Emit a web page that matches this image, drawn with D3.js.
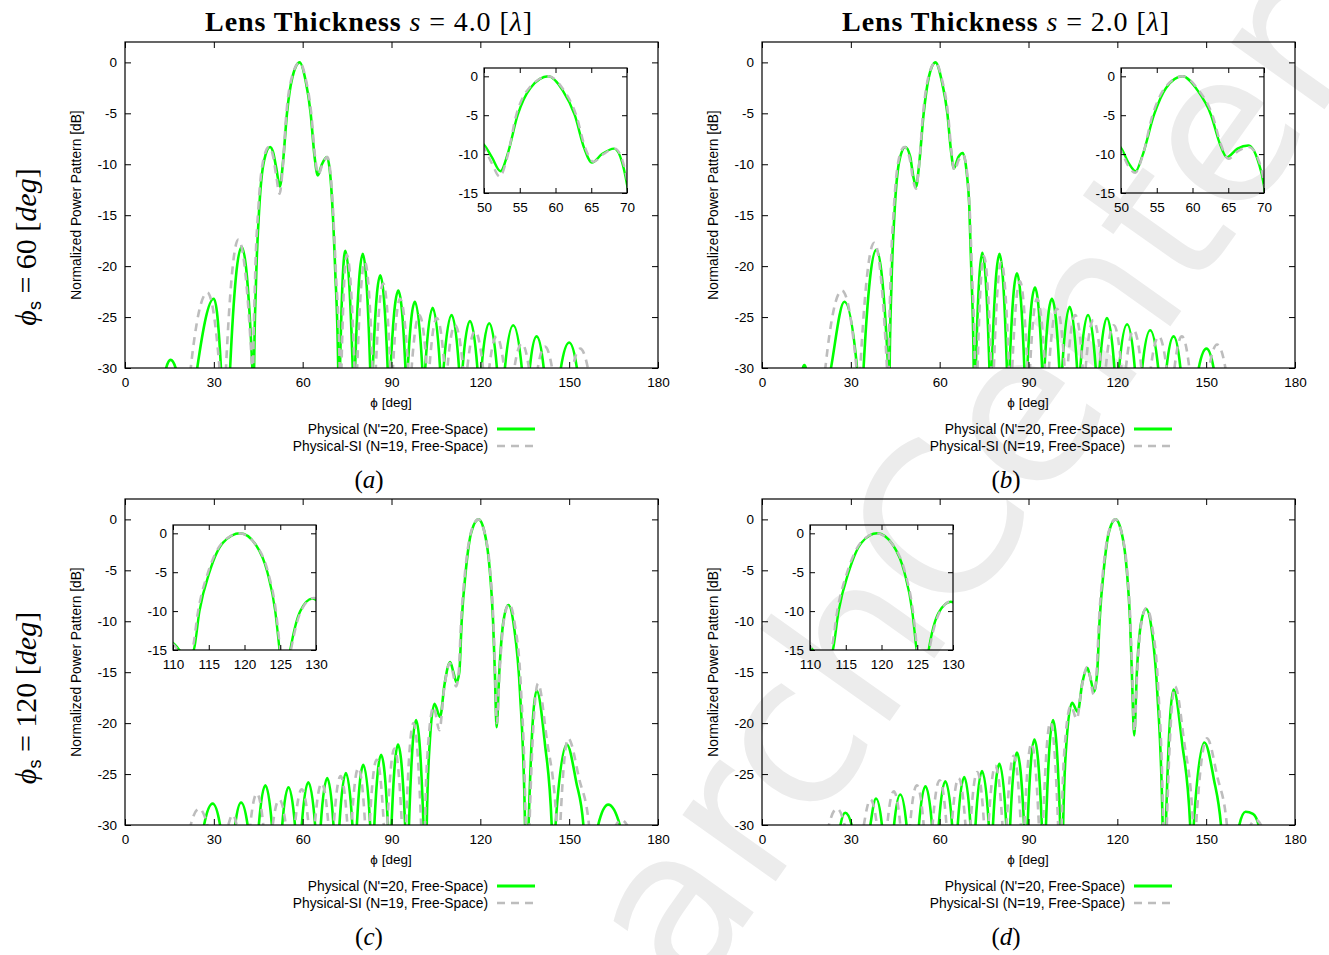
<!DOCTYPE html>
<html><head><meta charset="utf-8">
<script src="https://cdn.jsdelivr.net/npm/d3@7"></script>
<style>body{margin:0;background:#fff}</style>
</head><body>
<svg id="c" width="1329" height="955" xmlns="http://www.w3.org/2000/svg"></svg>
<script>
// ---------- data ----------
const xTicks=[0,30,60,90,120,150,180];
const yTicks=[0,-5,-10,-15,-20,-25,-30];
const insetYTicks=[0,-5,-10,-15];
const insetXTicksTop=[50,55,60,65,70];
const insetXTicksBottom=[110,115,120,125,130];
const seriesNames=["Physical (N'=20, Free-Space)","Physical-SI (N=19, Free-Space)"];
const panelLetters=["a","b","c","d"];
const thicknessValues=["4.0","2.0"];
const steerValues=["60","120"];
const watermarkText="ResearchCenter";

const physA=[[0,-45],[12.6,-45],[13.9,-30],[15.4,-29.2],[17.1,-30],[19,-45],
[24.4,-30],[30.0,-23.2],[32.4,-30],[34.0,-45],
[35.5,-30],[39.4,-18.1],[43.0,-30],[43.3,-45],
[43.6,-30],[44.2,-22],[45.4,-14],[47.0,-9.6],[49.0,-8.3],[50.0,-8.8],[51.1,-10.4],[52.3,-12.2],[53.3,-10.0],[54.7,-5],[56.5,-1.5],[59.0,0],[61.0,-1.8],[62.7,-5],[64.0,-9.2],[65.1,-11.1],[66.5,-10.0],[68.2,-9.3],[69.3,-11.0],[70.0,-13.9],[71.0,-20.5],[72.0,-30],[72.3,-45],
[72.6,-30],[74.4,-18.5],[76.9,-30],[77.3,-45],
[77.7,-30],[80.3,-18.8],[82.8,-30],[83.2,-45],
[83.7,-30],[86.2,-20.9],[88.7,-30],[89.2,-45],
[89.7,-30],[92.3,-22.4],[94.7,-30],[95.1,-45],
[95.5,-30],[97.9,-23.5],[100.4,-30],[100.9,-45],
[101.4,-30],[103.9,-24.1],[106.4,-30],[107.0,-45],
[107.6,-30],[110.3,-24.8],[112.8,-30],[113.3,-45],
[114.0,-30],[116.5,-25.4],[119.0,-30],[119.7,-45],
[120.4,-30],[123.0,-25.6],[125.6,-30],[127.0,-45],
[128.3,-30],[131.1,-25.8],[134.0,-30],[135.0,-45],
[136.7,-30],[139.0,-26.9],[141.4,-30],[144.0,-45],
[147.2,-30],[150.0,-27.5],[152.6,-30],[155.0,-45],[180,-45]];

const siA=[[0,-45],[21.0,-45],[22.2,-30],[27.8,-22.6],[31.9,-30],[33.0,-45],
[34.1,-30],[38.3,-17.4],[42.9,-30],[43.1,-45],
[43.3,-30],[43.9,-21.5],[45.1,-14],[46.7,-9.6],[48.6,-8.3],[50.0,-9.2],[51.1,-11.2],[52.2,-12.9],[53.2,-10.6],[54.5,-5],[56.4,-1.4],[59.0,0],[61.1,-1.7],[62.9,-5],[64.2,-9.3],[65.3,-11.0],[66.7,-10.0],[68.3,-9.3],[69.4,-10.9],[70.0,-13.2],[71.2,-20.5],[72.5,-30],[72.8,-45],
[73.1,-30],[74.9,-18.9],[77.5,-30],[77.9,-45],
[78.4,-30],[81.0,-19.6],[83.6,-30],[84.1,-45],
[84.7,-30],[87.2,-21.7],[89.6,-30],[90.0,-45],
[90.5,-30],[92.9,-23.2],[95.6,-30],[96.1,-45],
[96.8,-30],[99.4,-24.8],[101.9,-30],[102.3,-45],
[102.8,-30],[105.3,-25.1],[107.9,-30],[108.3,-45],
[108.9,-30],[111.4,-25.8],[114.2,-30],[114.7,-45],
[115.6,-30],[118.2,-26.4],[120.9,-30],[121.8,-45],
[123.0,-30],[125.5,-26.9],[128.0,-30],[129.5,-45],
[131.5,-30],[134.0,-27.6],[136.4,-30],[137.8,-45],
[139.4,-30],[141.8,-27.9],[144.2,-30],[147.0,-45],
[151.2,-30],[153.7,-28.1],[156.3,-30],[158,-45],[180,-45]];

const physB=[[0,-45],[13.2,-45],[13.8,-30],[14.3,-29.7],[14.8,-30],[15.5,-45],
[23.3,-30],[27.8,-23.5],[32.1,-30],[33.2,-45],
[34.3,-30],[38.6,-18.4],[42.6,-30],[42.85,-45],
[43.1,-30],[43.7,-22],[44.9,-14],[46.5,-9.5],[48.4,-8.3],[50.0,-9.2],[51.1,-11.2],[52.05,-12.2],[53.0,-10.2],[54.6,-5],[56.3,-1.5],[58.6,0],[60.7,-1.8],[62.6,-5],[63.8,-8.6],[64.8,-10.4],[66.3,-9.3],[67.8,-8.9],[69.2,-11.0],[70.0,-14.1],[70.7,-20.5],[71.5,-30],[71.8,-45],
[72.2,-30],[74.4,-18.7],[76.8,-30],[77.2,-45],
[77.6,-30],[80.2,-18.8],[82.7,-30],[83.1,-45],
[83.6,-30],[86.1,-20.7],[88.6,-30],[89.1,-45],
[89.6,-30],[92.2,-22.1],[94.6,-30],[95.0,-45],
[95.4,-30],[97.9,-23.2],[100.4,-30],[100.9,-45],
[101.4,-30],[103.9,-24.0],[106.4,-30],[107.0,-45],
[107.5,-30],[110.1,-24.8],[112.7,-30],[113.3,-45],
[114.0,-30],[116.5,-25.1],[119.0,-30],[119.8,-45],
[120.6,-30],[123.3,-25.7],[125.9,-30],[127.2,-45],
[128.4,-30],[131.1,-26.3],[133.8,-30],[135.0,-45],
[136.6,-30],[139.0,-26.9],[141.3,-30],[144.5,-45],
[147.5,-30],[150.1,-28.1],[152.5,-30],[155,-45],[180,-45]];

const siB=[[0,-45],[20.3,-45],[21.4,-30],[27.0,-22.4],[31.9,-30],[32.5,-45],
[33.2,-30],[37.9,-17.7],[42.2,-30],[42.5,-45],
[42.8,-30],[43.4,-21.5],[44.6,-14],[46.2,-9.5],[48.1,-8.3],[50.0,-9.6],[51.0,-11.5],[52.0,-12.4],[52.9,-10.6],[54.4,-5],[56.2,-1.4],[58.6,0],[60.8,-1.7],[62.8,-5],[64.0,-8.8],[65.0,-10.6],[66.4,-9.6],[67.9,-9.1],[69.3,-10.9],[70.0,-13.6],[70.9,-20.5],[71.9,-30],[72.2,-45],
[72.8,-30],[74.9,-19.0],[77.4,-30],[77.9,-45],
[78.3,-30],[80.8,-19.6],[83.4,-30],[83.9,-45],
[84.5,-30],[87.1,-21.5],[89.6,-30],[90.0,-45],
[90.5,-30],[92.9,-23.2],[95.6,-30],[96.2,-45],
[96.9,-30],[99.6,-24.2],[102.2,-30],[102.7,-45],
[103.2,-30],[105.8,-24.8],[108.3,-30],[108.8,-45],
[109.3,-30],[111.9,-25.3],[114.6,-30],[115.3,-45],
[116.1,-30],[118.8,-25.8],[121.4,-30],[122.1,-45],
[122.9,-30],[125.5,-26.3],[128.1,-30],[129.7,-45],
[131.3,-30],[134.0,-26.9],[136.6,-30],[137.9,-45],
[139.3,-30],[141.8,-26.9],[144.3,-30],[147.5,-45],
[151.0,-30],[153.7,-27.7],[156.5,-30],[158,-45],[180,-45]];

const physC=[[0,-45],[25.5,-45],[26.7,-30],[29.6,-27.9],[32.1,-30],[34,-45],
[37.2,-30],[39.2,-27.8],[41.4,-30],[43,-45],
[45.2,-30],[47.4,-26.1],[49.6,-30],[51,-45],
[53.1,-30],[55.2,-26.3],[57.4,-30],[58.5,-45],
[59.7,-30],[61.9,-25.8],[64.2,-30],[65.1,-45],
[66.1,-30],[68.3,-25.4],[70.4,-30],[71.4,-45],
[72.4,-30],[74.6,-24.9],[76.8,-30],[77.6,-45],
[78.3,-30],[80.5,-24.1],[82.8,-30],[83.5,-45],
[84.2,-30],[86.5,-23.1],[88.8,-30],[89.4,-45],
[90.0,-30],[92.2,-22.1],[94.6,-30],[95.3,-45],
[95.9,-30],[98.3,-19.7],[100.8,-30],[101.4,-45],
[101.9,-30],[102.9,-22],[104.5,-18.1],[106.4,-19.4],[107.9,-16.2],[109.8,-14.0],[110.9,-15.0],[112.0,-16.0],[112.9,-15.0],[113.7,-10],[115.1,-5],[117.0,-1.2],[119.4,0],[121.6,-1.5],[123.2,-5],[124.3,-10],[124.9,-15],[125.5,-20.4],[126.4,-15],[127.8,-10],[129.5,-8.4],[131.4,-10.6],[133.4,-17],[135.1,-30],[135.7,-45],
[136.3,-30],[139.0,-16.8],[141.8,-22],[144.1,-30],[144.7,-45],
[145.4,-30],[149.2,-22.1],[152.4,-25.8],[154.8,-30],[157.0,-45],
[159.8,-30],[163.2,-28.0],[167.1,-30],[168.5,-45],[180,-45]];

const siC=[[0,-45],[21.0,-45],[22.2,-30],[25.0,-28.4],[27.8,-30],[29,-45],
[34.9,-30],[36.3,-29.0],[37.7,-30],[39,-45],
[42.3,-30],[44.5,-26.9],[46.7,-30],[48,-45],
[49.9,-30],[52.1,-27.5],[54.3,-30],[55.5,-45],
[57.4,-30],[59.7,-26.5],[62.0,-30],[62.9,-45],
[64.1,-30],[66.4,-25.9],[68.7,-30],[69.6,-45],
[70.5,-30],[72.8,-25.2],[75.1,-30],[75.9,-45],
[76.5,-30],[78.8,-24.4],[81.1,-30],[81.9,-45],
[82.6,-30],[85.0,-23.6],[87.4,-30],[88.0,-45],
[88.6,-30],[91.0,-22.5],[93.5,-30],[94.2,-45],
[94.9,-30],[97.4,-20.0],[100.0,-30],[100.6,-45],
[101.3,-30],[102.4,-22],[104.2,-18.4],[106.2,-20.7],[107.7,-16.8],[109.7,-14.1],[110.7,-15.0],[111.8,-16.4],[112.7,-15.0],[113.5,-10],[114.9,-5],[116.9,-1.2],[119.3,0],[121.6,-1.5],[123.3,-5],[124.4,-10],[125.0,-15],[125.6,-20.0],[126.5,-15],[127.9,-10],[129.7,-8.3],[131.7,-10.4],[133.7,-16.5],[135.3,-30],[135.9,-45],
[136.6,-30],[139.5,-16.1],[142.4,-21.5],[145.8,-30],[146.4,-45],
[147.0,-30],[149.7,-21.5],[153.4,-25.5],[156.7,-30],[160,-45],
[165.8,-30],[167.6,-29.5],[169.5,-30],[171,-45],[180,-45]];

const physD=[[0,-45],[25.5,-45],[26.5,-30],[28.1,-28.8],[30.3,-30],[32,-45],
[36.6,-30],[38.5,-27.4],[40.5,-30],[42,-45],
[44.6,-30],[46.7,-27.0],[48.8,-30],[50.5,-45],
[53.0,-30],[55.2,-26.2],[57.4,-30],[58.5,-45],
[59.7,-30],[61.9,-25.7],[64.2,-30],[65.1,-45],
[66.1,-30],[68.3,-25.3],[70.4,-30],[71.3,-45],
[72.1,-30],[74.3,-24.7],[76.6,-30],[77.3,-45],
[78.0,-30],[80.2,-24.0],[82.5,-30],[83.2,-45],
[83.8,-30],[86.1,-22.9],[88.5,-30],[89.1,-45],
[89.7,-30],[92.0,-21.6],[94.5,-30],[95.2,-45],
[95.9,-30],[98.3,-19.7],[100.7,-30],[101.2,-45],
[101.7,-30],[102.8,-22],[104.7,-18.0],[106.6,-18.9],[108.2,-16.0],[109.9,-14.6],[110.5,-15.1],[112.2,-16.9],[113.2,-15.0],[114.0,-10],[115.4,-5],[117.2,-1.2],[119.4,0],[121.6,-1.5],[123.2,-5],[124.3,-10],[124.9,-15],[125.7,-21.2],[126.6,-15],[128.0,-10.2],[129.7,-8.8],[131.6,-10.8],[133.5,-17],[135.3,-30],[135.8,-45],
[136.4,-30],[139.0,-16.7],[141.9,-22],[144.6,-30],[145.2,-45],
[145.8,-30],[149.4,-21.9],[152.6,-25.5],[155.0,-30],[158.0,-45],
[161.2,-30],[163.3,-28.7],[165.8,-28.9],[167.7,-30],[169,-45],[180,-45]];

const siD=[[0,-45],[21.5,-45],[22.6,-30],[25.3,-28.4],[27.9,-30],[29.5,-45],
[34.4,-30],[36.6,-27.5],[38.8,-30],[40,-45],
[42.3,-30],[44.5,-26.7],[46.7,-30],[48,-45],
[50.0,-30],[52.3,-26.1],[54.6,-30],[55.6,-45],
[57.6,-30],[60.0,-25.6],[62.3,-30],[63.1,-45],
[64.1,-30],[66.4,-25.4],[68.7,-30],[69.5,-45],
[70.4,-30],[72.7,-24.8],[75.0,-30],[75.8,-45],
[76.5,-30],[78.8,-24.2],[81.2,-30],[81.9,-45],
[82.6,-30],[85.0,-23.2],[87.4,-30],[88.0,-45],
[88.6,-30],[91.0,-22.0],[93.5,-30],[94.2,-45],
[94.9,-30],[97.4,-19.9],[100.0,-30],[100.6,-45],
[101.2,-30],[102.3,-22],[104.3,-18.3],[106.3,-19.6],[108.0,-16.4],[109.8,-14.5],[110.5,-15.0],[112.0,-17.2],[113.0,-15.0],[113.8,-10],[115.2,-5],[117.1,-1.2],[119.3,0],[121.6,-1.5],[123.3,-5],[124.4,-10],[125.0,-15],[125.8,-20.8],[126.7,-15],[128.1,-10.2],[129.8,-8.7],[131.8,-10.6],[133.8,-16.5],[135.5,-30],[136.0,-45],
[136.7,-30],[139.5,-16.4],[142.5,-21.7],[145.6,-30],[146.1,-45],
[146.6,-30],[150.3,-21.5],[153.8,-25.3],[157.0,-30],[160,-45],
[165.0,-30],[166.8,-29.5],[168.5,-30],[170,-45],[180,-45]];

// ---------- layout ----------
const W=533, H=326, IW=143, IH=125;
const panels=[
 {k:0, phys:physA, si:siA, x0:125, y0:42,  ix:484,  iy:68,  idom:[50,70],   iticks:insetXTicksTop},
 {k:1, phys:physB, si:siB, x0:762, y0:42,  ix:1121, iy:68,  idom:[50,70],   iticks:insetXTicksTop},
 {k:2, phys:physC, si:siC, x0:125, y0:499, ix:173,  iy:525, idom:[110,130], iticks:insetXTicksBottom},
 {k:3, phys:physD, si:siD, x0:762, y0:499, ix:810,  iy:525, idom:[110,130], iticks:insetXTicksBottom}
];
const SANS='"Liberation Sans", Arial, Helvetica, sans-serif';
const SERIF='"Liberation Serif", "Times New Roman", serif';
const GREEN="#00ff00", GRAY="#bdbdbd";

const svg=d3.select("#c");
svg.append("rect").attr("width",1329).attr("height",955).attr("fill","#fff");

// ---------- faint diagonal watermark (behind, cut by the page edge as in the source) ----------
(function(){
  const deg=-54.6, ang=deg*Math.PI/180, ux=Math.cos(ang), uy=Math.sin(ang);
  const dx=-Math.sin(ang), dy=Math.cos(ang);
  const FAM='"DejaVu Sans", sans-serif';
  const probe=svg.append("text").attr("font-family",FAM).attr("font-size",100).text(watermarkText);
  const node=probe.node();
  const aIdx=4, n=watermarkText.length;
  const pre=node.getSubStringLength(0,aIdx);
  const aW=node.getSubStringLength(aIdx,1), rW=node.getSubStringLength(n-1,1);
  const span=node.getSubStringLength(aIdx,n-aIdx)-aW/2-rW/2;
  probe.remove();
  const A=[680,915], E=[1290,55];
  const F=100*Math.hypot(E[0]-A[0],E[1]-A[1])/span, s=F/100;
  const bx=A[0]+0.28*F*dx, by=A[1]+0.28*F*dy;
  const ox=bx-ux*(pre+aW/2)*s, oy=by-uy*(pre+aW/2)*s;
  const wm=svg.append("svg").attr("x",0).attr("y",0).attr("width",1329).attr("height",955)
     .attr("overflow","hidden");
  wm.append("text").attr("transform",`translate(${ox},${oy}) rotate(${deg})`)
    .attr("font-family",FAM).attr("font-size",F).attr("fill","#ececec")
    .text(watermarkText);
})();

function styleAxis(g,fs){
  g.attr("font-family",SANS).attr("font-size",fs);
  g.selectAll(".domain").remove();
  g.selectAll(".tick line").attr("stroke","#000").attr("stroke-width",1);
  g.selectAll(".tick text").attr("fill","#000");
}
const fmt=d=>String(d);

function drawFrame(x,y,xt,yt,tick,fs,padX,padY,clipId,phys,si,lw){
  const [xa,xb]=x.range(), [yb,ya]=y.range();
  svg.append("clipPath").attr("id",clipId).append("rect")
     .attr("x",xa).attr("y",ya).attr("width",xb-xa).attr("height",yb-ya);
  const line=d3.line().x(d=>x(d[0])).y(d=>y(d[1])).curve(d3.curveMonotoneX);
  const gl=svg.append("g").attr("clip-path",`url(#${clipId})`);
  gl.append("path").datum(phys).attr("d",line).attr("fill","none")
    .attr("stroke",GREEN).attr("stroke-width",lw).attr("stroke-linejoin","round");
  gl.append("path").datum(si).attr("d",line).attr("fill","none")
    .attr("stroke",GRAY).attr("stroke-width",lw).attr("stroke-dasharray","8,6");
  styleAxis(svg.append("g").attr("transform",`translate(0,${yb})`)
    .call(d3.axisBottom(x).tickValues(xt).tickFormat(fmt).tickSize(-tick).tickSizeOuter(0).tickPadding(padX)),fs);
  styleAxis(svg.append("g").attr("transform",`translate(0,${ya})`)
    .call(d3.axisTop(x).tickValues(xt).tickFormat("").tickSize(-tick).tickSizeOuter(0)),fs);
  styleAxis(svg.append("g").attr("transform",`translate(${xa},0)`)
    .call(d3.axisLeft(y).tickValues(yt).tickFormat(fmt).tickSize(-tick).tickSizeOuter(0).tickPadding(padY)),fs);
  styleAxis(svg.append("g").attr("transform",`translate(${xb},0)`)
    .call(d3.axisRight(y).tickValues(yt).tickFormat("").tickSize(-tick).tickSizeOuter(0)),fs);
  svg.append("rect").attr("x",xa).attr("y",ya).attr("width",xb-xa).attr("height",yb-ya)
    .attr("fill","none").attr("stroke","#000").attr("stroke-width",1.2);
}

panels.forEach(p=>{
  const x=d3.scaleLinear().domain([0,180]).range([p.x0,p.x0+W]);
  const y=d3.scaleLinear().domain([-30,2]).range([p.y0+H,p.y0]);
  drawFrame(x,y,xTicks,yTicks,6,13.5,9,8,"clipm"+p.k,p.phys,p.si,2.6);

  const xi=d3.scaleLinear().domain(p.idom).range([p.ix,p.ix+IW]);
  const yi=d3.scaleLinear().domain([-15,1.07]).range([p.iy+IH,p.iy]);
  drawFrame(xi,yi,p.iticks,insetYTicks,5,13.5,9,6,"clipi"+p.k,p.phys,p.si,2.4);

  svg.append("text").attr("transform",`translate(${p.x0-44},${p.y0+H/2}) rotate(-90)`)
    .attr("text-anchor","middle").attr("font-family",SANS).attr("font-size",13.8)
    .text("Normalized Power Pattern [dB]");
  svg.append("text").attr("x",p.x0+266).attr("y",p.y0+H+39).attr("text-anchor","middle")
    .attr("font-family",SANS).attr("font-size",13.5).text("\u03D5 [deg]");
  const lx=p.x0+363, ly=p.y0+387;
  seriesNames.forEach((n,i)=>{
    svg.append("text").attr("x",lx).attr("y",ly+i*17+5).attr("text-anchor","end")
      .attr("font-family",SANS).attr("font-size",13.8).text(n);
    svg.append("line").attr("x1",lx+9).attr("x2",lx+47).attr("y1",ly+i*17).attr("y2",ly+i*17)
      .attr("stroke",i?GRAY:GREEN).attr("stroke-width",i?2.6:2.8).attr("stroke-dasharray",i?"8,6":null);
  });
  const pl=svg.append("text").attr("x",p.x0+244).attr("y",p.y0+446).attr("text-anchor","middle")
    .attr("font-family",SERIF).attr("font-size",25);
  pl.append("tspan").text("(");
  pl.append("tspan").attr("font-style","italic").text(panelLetters[p.k]);
  pl.append("tspan").text(")");
});

thicknessValues.forEach((s,i)=>{
  const t=svg.append("text").attr("x",[369,1006][i]).attr("y",31).attr("text-anchor","middle")
    .attr("font-family",SERIF).attr("font-size",28).attr("letter-spacing",0.9);
  t.append("tspan").attr("font-weight","bold").text("Lens Thickness ");
  t.append("tspan").attr("font-style","italic").text("s");
  t.append("tspan").text(" = "+s+" [");
  t.append("tspan").attr("font-style","italic").text("\u03BB");
  t.append("tspan").text("]");
});
steerValues.forEach((v,i)=>{
  const t=svg.append("text").attr("transform",`translate(36,${[247,698][i]}) rotate(-90)`)
    .attr("text-anchor","middle").attr("font-family",SERIF).attr("font-size",30);
  t.append("tspan").attr("font-style","italic").text("\u03D5");
  t.append("tspan").attr("font-size",18).attr("dy",5).attr("font-family",SANS).text("s");
  t.append("tspan").attr("dy",-5).text(" = "+v+" [");
  t.append("tspan").attr("font-style","italic").text("deg");
  t.append("tspan").text("]");
});
</script>
</body></html>
